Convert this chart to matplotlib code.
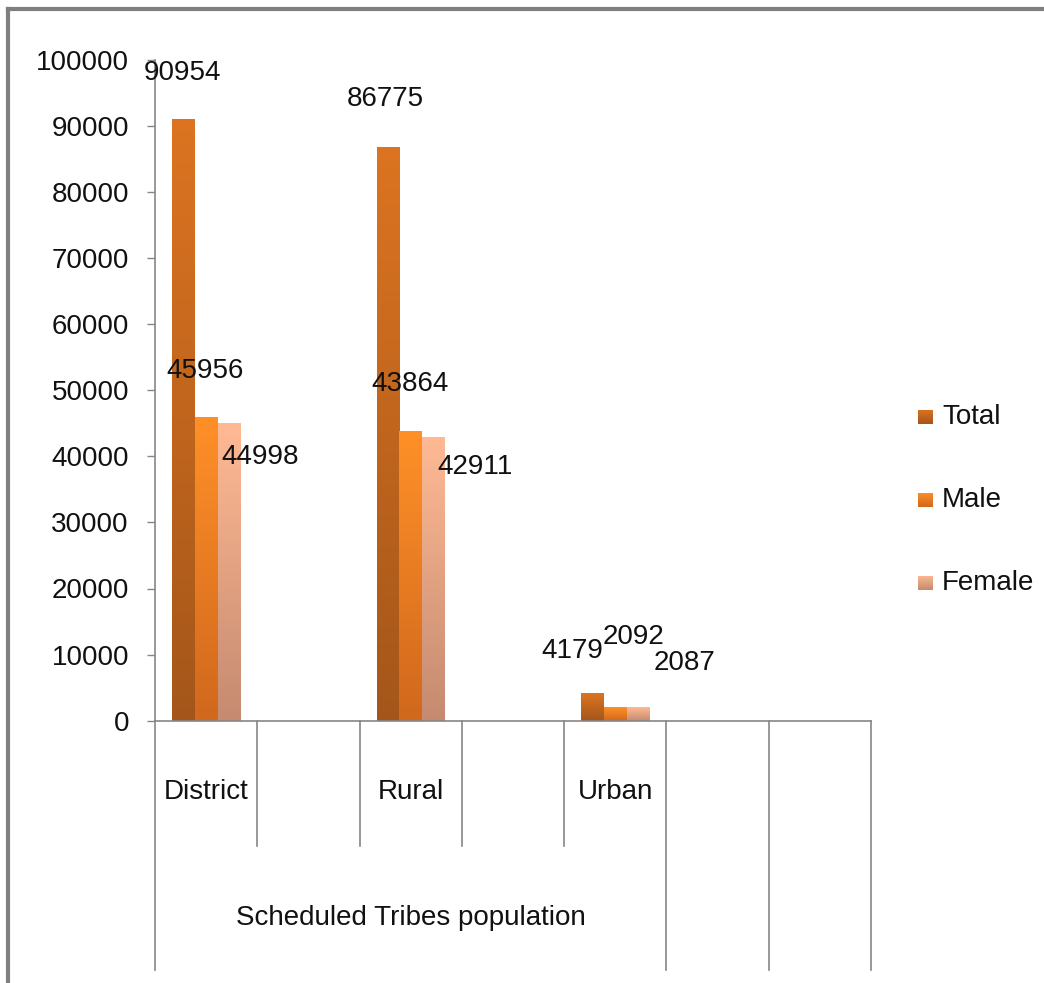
import numpy as np
import matplotlib
matplotlib.use("Agg")
import matplotlib.pyplot as plt
from matplotlib.colors import LinearSegmentedColormap
from matplotlib.lines import Line2D

plt.rcParams["font.family"] = ["Liberation Sans", "DejaVu Sans"]

# data
categories = ["District", "", "Rural", "", "Urban", "", ""]
group_label = "Scheduled Tribes population"
group_span = 5  # first five category slots belong to the group
series = ["Total", "Male", "Female"]
total = [90954, np.nan, 86775, np.nan, 4179, np.nan, np.nan]
male = [45956, np.nan, 43864, np.nan, 2092, np.nan, np.nan]
female = [44998, np.nan, 42911, np.nan, 2087, np.nan, np.nan]
y_ticks = list(range(0, 100001, 10000))

# styles: gradient (bottom, top) per series
grad_colors = [("#a4561a", "#dc7421"), ("#d0681d", "#ff9028"), ("#c58a70", "#ffba94")]
# data label offsets in pixels (dx, dy), Excel put them in odd places
label_offsets = [
    [(-1, 46), None, (-3, 48), None, (-20, 42), None, None],
    [(-1, 46), None, (-1, 47), None, (18, 70), None, None],
    [(31, -34), None, (42, -30), None, (46, 44), None, None],
]
FS = 20
GRAY = "#868686"

W, H = 1044, 983
fig = plt.figure(figsize=(W / 100, H / 100), dpi=100)
fig.patch.set_facecolor("white")
ax = fig.add_axes([155 / W, 262.3 / H, 716 / W, 661 / H])

x = np.arange(len(categories))
width = 1 / 4.5
grad = np.linspace(0, 1, 256).reshape(-1, 1)

for i, vals in enumerate([total, male, female]):
    vals = np.array(vals, dtype=float)
    ok = ~np.isnan(vals)
    cmap = LinearSegmentedColormap.from_list(series[i], grad_colors[i])
    bars = ax.bar(x[ok] + (i - 1) * width, vals[ok], width, color="none", edgecolor="none")
    for rect, xi, v in zip(bars, x[ok], vals[ok]):
        x0, w, h = rect.get_x(), rect.get_width(), rect.get_height()
        ax.imshow(grad, extent=(x0, x0 + w, 0, h), origin="lower", aspect="auto",
                  cmap=cmap, zorder=2, interpolation="bicubic")
        dx, dy = label_offsets[i][xi]
        ax.annotate(f"{int(v)}", xy=(x0 + w / 2, h), xytext=(dx * 0.72, dy * 0.72),
                    textcoords="offset points", ha="center", va="center",
                    fontsize=FS, color="#111111", zorder=4)

ax.set_xlim(-0.5, len(categories) - 0.5)
ax.set_ylim(0, 100000)
ax.set_yticks(y_ticks)
ax.set_xticks([])
ax.tick_params(axis="y", direction="out", length=5.8, width=1, color=GRAY,
               labelsize=FS, pad=13, labelcolor="#111111")
for s in ["top", "right"]:
    ax.spines[s].set_visible(False)
for s in ["left", "bottom"]:
    ax.spines[s].set_color(GRAY)
    ax.spines[s].set_linewidth(1.2)

# multi-level category axis
trans = ax.get_xaxis_transform()
short_y, long_y = -0.19, -0.377
for k in range(len(categories) + 1):
    xb = k - 0.5
    bottom = short_y if 0 < k < group_span else long_y
    ax.plot([xb, xb], [0, bottom], color=GRAY, lw=1.2, transform=trans, clip_on=False)
for xi, name in zip(x, categories):
    if name:
        ax.text(xi, -0.108, name, transform=trans, ha="center", va="center",
                fontsize=FS, color="#111111")
ax.text((group_span - 1) / 2, -0.298, group_label, transform=trans, ha="center",
        va="center", fontsize=FS, color="#111111")

# legend
legend_rows = [417, 500, 583]
for i, name in enumerate(series):
    yc = legend_rows[i]
    sw = fig.add_axes([918 / W, (H - yc - 7.5) / H, 15 / W, 15 / H])
    sw.imshow(grad, origin="lower", aspect="auto",
              cmap=LinearSegmentedColormap.from_list(name, grad_colors[i]))
    sw.axis("off")
    fig.text(942 / W, (H - yc) / H, name, ha="left", va="center", fontsize=FS, color="#111111")

# chart frame (top and left edges visible)
fig.add_artist(Line2D([8 / W, 1], [1 - 9 / H, 1 - 9 / H], color="#7f7f7f", lw=3))
fig.add_artist(Line2D([8 / W, 8 / W], [0, 1 - 9 / H], color="#7f7f7f", lw=3))

fig.savefig("out.png", dpi=100, facecolor="white")
